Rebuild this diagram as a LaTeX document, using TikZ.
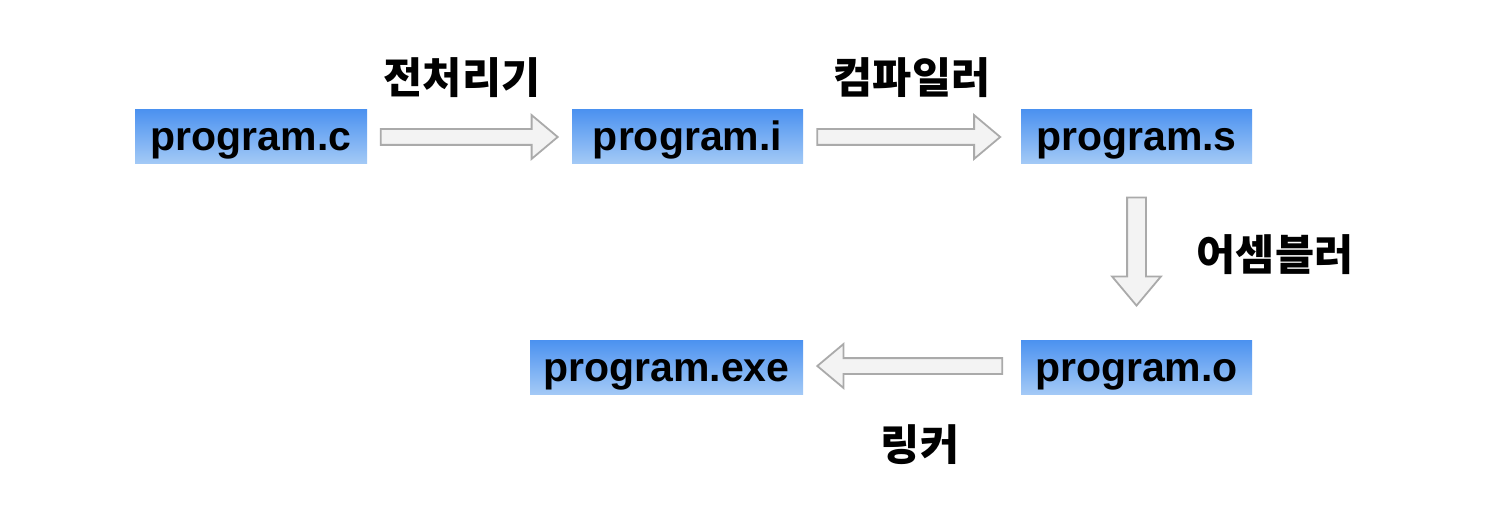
\documentclass[tikz,border=0pt]{standalone}
\usepackage{fontspec}
\setmainfont{Liberation Sans}
\newfontfamily\kofont{Noto Sans CJK KR}
\usetikzlibrary{shapes.arrows}
\definecolor{boxtop}{RGB}{76,146,240}
\definecolor{boxbot}{RGB}{164,202,246}
\definecolor{arrfill}{RGB}{243,243,243}
\definecolor{arrline}{RGB}{170,170,170}
\begin{document}
\begin{tikzpicture}[x=1pt,y=-1pt,
  filebox/.style={rectangle, top color=boxtop, bottom color=boxbot, draw=none,
    minimum height=54pt, inner sep=0pt, text height=28pt, text depth=0pt,
    font=\fontsize{41}{44}\selectfont\bfseries},
  fatarrow/.style={single arrow, draw=arrline, line width=1.8pt, fill=arrfill,
    inner xsep=0pt, inner ysep=7pt, single arrow head extend=14pt, single arrow tip angle=80},
  lbl/.style={font=\kofont\fontsize{42.5}{45}\selectfont\bfseries, inner sep=0pt}]
\useasboundingbox (0,0) rectangle (1506,526);
\node[filebox, minimum width=232pt] (c) at (251,137) {program.c};
\node[filebox, minimum width=231pt] (i) at (687.5,137) {program.i};
\node[filebox, minimum width=231pt] (s) at (1136.5,137) {program.s};
\node[filebox, minimum width=231pt] (o) at (1136.5,367.5) {program.o};
\node[filebox, minimum width=273pt] (exe) at (666.5,367.5) {program.exe};
\node[fatarrow, minimum height=177pt] (a1) at (464.5,137) {};
\node[fatarrow, minimum height=183pt] (a2) at (904,137) {};
\node[fatarrow, minimum height=108pt, inner xsep=8.5pt, inner ysep=0pt, single arrow head extend=15pt, shape border rotate=270] (a3) at (1136.5,246) {};
\node[fatarrow, minimum height=185pt, shape border rotate=180] (a4) at (914.5,366) {};
\node[lbl] (l1) at (462,78) {전처리기};
\node[lbl] (l2) at (912,78) {컴파일러};
\node[lbl] (l3) at (1275,255) {어셈블러};
\node[lbl] (l4) at (920,445) {링커};
\end{tikzpicture}
\end{document}
